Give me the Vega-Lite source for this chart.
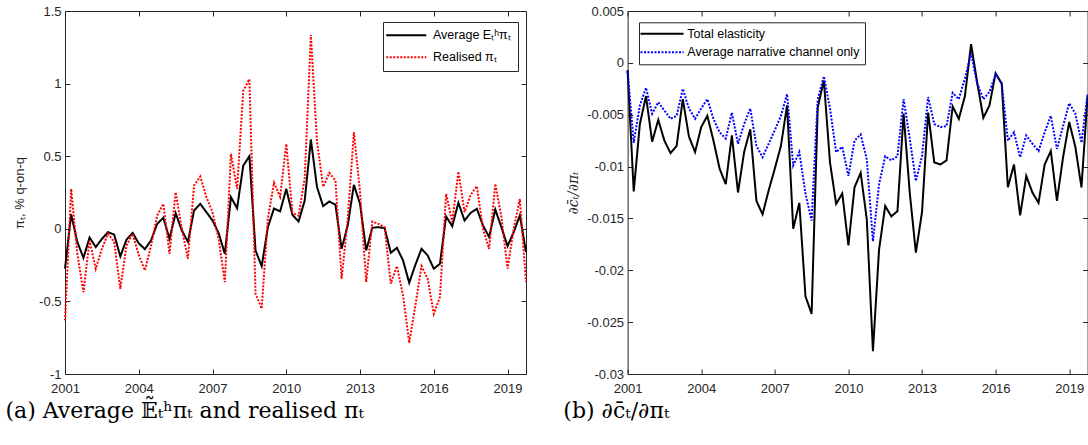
{
  "$schema": "https://vega.github.io/schema/vega-lite/v6.json",
  "background": "white",
  "padding": 5,
  "bounds": "flush",
  "spacing": 101.6,
  "resolve": {"scale": {"stroke": "independent", "strokeDash": "independent"}, "legend": {"stroke": "independent", "strokeDash": "independent"}},
  "config": {
    "view": {"stroke": null},
    "axis": {"domainColor": "#262626", "tickColor": "#262626", "labelColor": "#262626", "titleColor": "#262626", "labelFont": "Liberation Sans", "titleFont": "Liberation Sans", "labelFontSize": 13, "titleFontSize": 13, "titleFontWeight": "normal", "grid": false, "tickSize": -5, "domainWidth": 1, "tickWidth": 1, "labelFlush": false, "labelOverlap": false},
    "legend": {"labelFont": "Liberation Sans", "labelFontSize": 12.5, "labelColor": "black", "labelLimit": 0, "strokeColor": "#262626", "fillColor": "white", "symbolStrokeWidth": 2, "orient": "none", "title": null},
    "title": {"font": "DejaVu Serif", "fontSize": 22, "fontWeight": "normal", "color": "black", "orient": "bottom", "anchor": "start", "frame": "group", "offset": 6}
  },
  "datasets": {
    "d": [
      {"t": 2001, "exp": -0.275, "real": -0.631, "tot": -0.0007, "nar": -0.0008},
      {"t": 2001.25, "exp": 0.10, "real": 0.275, "tot": -0.0124, "nar": -0.0077},
      {"t": 2001.5, "exp": -0.09, "real": -0.17, "tot": -0.0059, "nar": -0.0041},
      {"t": 2001.75, "exp": -0.20, "real": -0.436, "tot": -0.0032, "nar": -0.0024},
      {"t": 2002, "exp": -0.06, "real": -0.08, "tot": -0.0076, "nar": -0.0049},
      {"t": 2002.25, "exp": -0.126, "real": -0.275, "tot": -0.0055, "nar": -0.0038},
      {"t": 2002.5, "exp": -0.07, "real": -0.138, "tot": -0.0075, "nar": -0.0046},
      {"t": 2002.75, "exp": -0.023, "real": -0.034, "tot": -0.0087, "nar": -0.0054},
      {"t": 2003, "exp": -0.04, "real": -0.09, "tot": -0.0080, "nar": -0.0051},
      {"t": 2003.25, "exp": -0.19, "real": -0.413, "tot": -0.0035, "nar": -0.0025},
      {"t": 2003.5, "exp": -0.075, "real": -0.115, "tot": -0.0071, "nar": -0.0044},
      {"t": 2003.75, "exp": -0.028, "real": -0.034, "tot": -0.0086, "nar": -0.0054},
      {"t": 2004, "exp": -0.10, "real": -0.18, "tot": -0.0062, "nar": -0.0044},
      {"t": 2004.25, "exp": -0.14, "real": -0.287, "tot": -0.0051, "nar": -0.0035},
      {"t": 2004.5, "exp": -0.08, "real": -0.115, "tot": -0.0075, "nar": -0.0054},
      {"t": 2004.75, "exp": 0.034, "real": 0.092, "tot": -0.0102, "nar": -0.0067},
      {"t": 2005, "exp": 0.076, "real": 0.172, "tot": -0.0117, "nar": -0.0073},
      {"t": 2005.25, "exp": -0.069, "real": -0.172, "tot": -0.0070, "nar": -0.0048},
      {"t": 2005.5, "exp": 0.108, "real": 0.252, "tot": -0.0125, "nar": -0.0078},
      {"t": 2005.75, "exp": -0.01, "real": 0.0, "tot": -0.0086, "nar": -0.0059},
      {"t": 2006, "exp": -0.09, "real": -0.206, "tot": -0.0064, "nar": -0.0044},
      {"t": 2006.25, "exp": 0.126, "real": 0.298, "tot": -0.0133, "nar": -0.0080},
      {"t": 2006.5, "exp": 0.172, "real": 0.36, "tot": -0.0146, "nar": -0.0091},
      {"t": 2006.75, "exp": 0.115, "real": 0.218, "tot": -0.0123, "nar": -0.0078},
      {"t": 2007, "exp": 0.057, "real": 0.115, "tot": -0.0102, "nar": -0.0065},
      {"t": 2007.25, "exp": -0.03, "real": -0.07, "tot": -0.0080, "nar": -0.0051},
      {"t": 2007.5, "exp": -0.172, "real": -0.367, "tot": -0.0041, "nar": -0.0030},
      {"t": 2007.75, "exp": 0.218, "real": 0.516, "tot": -0.0160, "nar": -0.0099},
      {"t": 2008, "exp": 0.142, "real": 0.275, "tot": -0.0135, "nar": -0.0086},
      {"t": 2008.25, "exp": 0.435, "real": 0.95, "tot": -0.0225, "nar": -0.0126},
      {"t": 2008.5, "exp": 0.50, "real": 1.03, "tot": -0.0242, "nar": -0.0152},
      {"t": 2008.75, "exp": -0.15, "real": -0.447, "tot": -0.0043, "nar": -0.0035},
      {"t": 2009, "exp": -0.257, "real": -0.55, "tot": -0.0017, "nar": -0.0013},
      {"t": 2009.25, "exp": 0.01, "real": 0.069, "tot": -0.0096, "nar": -0.0044},
      {"t": 2009.5, "exp": 0.14, "real": 0.317, "tot": -0.0136, "nar": -0.0086},
      {"t": 2009.75, "exp": 0.12, "real": 0.22, "tot": -0.0126, "nar": -0.0081},
      {"t": 2010, "exp": 0.275, "real": 0.585, "tot": -0.0176, "nar": -0.0109},
      {"t": 2010.25, "exp": 0.096, "real": 0.11, "tot": -0.0120, "nar": -0.0075},
      {"t": 2010.5, "exp": 0.05, "real": 0.09, "tot": -0.0106, "nar": -0.0069},
      {"t": 2010.75, "exp": 0.195, "real": 0.35, "tot": -0.0151, "nar": -0.0093},
      {"t": 2011, "exp": 0.615, "real": 1.335, "tot": -0.0278, "nar": -0.0172},
      {"t": 2011.25, "exp": 0.287, "real": 0.6, "tot": -0.0180, "nar": -0.0117},
      {"t": 2011.5, "exp": 0.156, "real": 0.29, "tot": -0.0138, "nar": -0.0090},
      {"t": 2011.75, "exp": 0.188, "real": 0.385, "tot": -0.0148, "nar": -0.0094},
      {"t": 2012, "exp": 0.166, "real": 0.333, "tot": -0.0143, "nar": -0.0090},
      {"t": 2012.25, "exp": -0.138, "real": -0.344, "tot": -0.0049, "nar": -0.0035},
      {"t": 2012.5, "exp": 0.023, "real": 0.069, "tot": -0.0125, "nar": -0.0073},
      {"t": 2012.75, "exp": 0.303, "real": 0.665, "tot": -0.0183, "nar": -0.0114},
      {"t": 2013, "exp": 0.172, "real": 0.252, "tot": -0.0144, "nar": -0.0090},
      {"t": 2013.25, "exp": -0.149, "real": -0.367, "tot": -0.0048, "nar": -0.0033},
      {"t": 2013.5, "exp": 0.007, "real": 0.05, "tot": -0.0096, "nar": -0.0059},
      {"t": 2013.75, "exp": 0.011, "real": 0.034, "tot": -0.0098, "nar": -0.0062},
      {"t": 2014, "exp": 0.005, "real": 0.011, "tot": -0.0094, "nar": -0.0061},
      {"t": 2014.25, "exp": -0.165, "real": -0.378, "tot": -0.0042, "nar": -0.0029},
      {"t": 2014.5, "exp": -0.131, "real": -0.257, "tot": -0.0054, "nar": -0.0035},
      {"t": 2014.75, "exp": -0.218, "real": -0.459, "tot": -0.0032, "nar": -0.0015},
      {"t": 2015, "exp": -0.372, "real": -0.785, "tot": 0.0018, "nar": 0.0009},
      {"t": 2015.25, "exp": -0.248, "real": -0.528, "tot": -0.0019, "nar": -0.0020},
      {"t": 2015.5, "exp": -0.138, "real": -0.257, "tot": -0.0053, "nar": -0.0035},
      {"t": 2015.75, "exp": -0.183, "real": -0.344, "tot": -0.0041, "nar": -0.0028},
      {"t": 2016, "exp": -0.275, "real": -0.585, "tot": -0.0010, "nar": -0.0011},
      {"t": 2016.25, "exp": -0.241, "real": -0.47, "tot": -0.0020, "nar": -0.0020},
      {"t": 2016.5, "exp": 0.085, "real": 0.241, "tot": -0.0120, "nar": -0.0075},
      {"t": 2016.75, "exp": 0.018, "real": 0.046, "tot": -0.0098, "nar": -0.0067},
      {"t": 2017, "exp": 0.179, "real": 0.394, "tot": -0.0147, "nar": -0.0091},
      {"t": 2017.25, "exp": 0.057, "real": 0.115, "tot": -0.0109, "nar": -0.0070},
      {"t": 2017.5, "exp": 0.110, "real": 0.234, "tot": -0.0125, "nar": -0.0078},
      {"t": 2017.75, "exp": 0.138, "real": 0.294, "tot": -0.0135, "nar": -0.0085},
      {"t": 2018, "exp": 0.023, "real": 0.0, "tot": -0.0098, "nar": -0.0067},
      {"t": 2018.25, "exp": -0.057, "real": -0.138, "tot": -0.0085, "nar": -0.0051},
      {"t": 2018.5, "exp": 0.133, "real": 0.31, "tot": -0.0133, "nar": -0.0083},
      {"t": 2018.75, "exp": 0.011, "real": 0.08, "tot": -0.0091, "nar": -0.0061},
      {"t": 2019, "exp": -0.119, "real": -0.275, "tot": -0.0057, "nar": -0.0039},
      {"t": 2019.25, "exp": -0.023, "real": 0.0, "tot": -0.0081, "nar": -0.0049},
      {"t": 2019.5, "exp": 0.092, "real": 0.206, "tot": -0.0120, "nar": -0.0077},
      {"t": 2019.75, "exp": -0.16, "real": -0.367, "tot": -0.0032, "nar": -0.0030}
    ]
  },
  "hconcat": [
    {
      "width": 461,
      "height": 363,
      "data": {"name": "d"},
      "title": {"text": "(a) Average 𝔼̃ₜʰπₜ and realised πₜ", "dx": -59.5},
      "layer": [
        {
          "transform": [{"fold": ["exp", "real"], "as": ["series", "value"]}],
          "mark": {"type": "line", "strokeWidth": 2},
          "encoding": {
            "x": {"field": "t", "type": "quantitative", "scale": {"domain": [2001, 2019.75], "nice": false, "zero": false}, "axis": {"orient": "bottom", "values": [2001, 2004, 2007, 2010, 2013, 2016, 2019], "format": "d", "title": null, "labelPadding": 13}},
            "y": {"field": "value", "type": "quantitative", "scale": {"domain": [-1, 1.5], "nice": false}, "axis": {"orient": "left", "values": [-1, -0.5, 0, 0.5, 1, 1.5], "labelExpr": "'' + datum.value", "title": "πₜ, % q-on-q", "titlePadding": 12, "labelPadding": 9}},
            "stroke": {"field": "series", "type": "nominal", "scale": {"domain": ["exp", "real"], "range": ["#000000", "#ff0000"]}, "legend": {"legendX": 318, "legendY": 11, "padding": 7, "rowPadding": 9, "symbolType": "M-2,0H6", "symbolSize": 100, "labelOffset": 30.5, "labelExpr": "datum.value == 'exp' ? 'Average Eₜʰπₜ' : 'Realised πₜ'"}},
            "strokeDash": {"field": "series", "type": "nominal", "scale": {"domain": ["exp", "real"], "range": [[1, 0], [2, 1.5]]}, "legend": {"legendX": 318, "legendY": 11, "padding": 7, "rowPadding": 9, "symbolType": "M-2,0H6", "symbolSize": 100, "labelOffset": 30.5, "labelExpr": "datum.value == 'exp' ? 'Average Eₜʰπₜ' : 'Realised πₜ'"}}
          }
        },
        {
          "mark": {"type": "line", "opacity": 0},
          "encoding": {
            "x": {"field": "t", "type": "quantitative", "scale": {"domain": [2001, 2019.75], "nice": false, "zero": false}, "axis": {"orient": "top", "values": [2001, 2004, 2007, 2010, 2013, 2016, 2019], "labels": false, "title": null}},
            "y": {"field": "exp", "type": "quantitative", "scale": {"domain": [-1, 1.5], "nice": false}, "axis": {"orient": "right", "values": [-1, -0.5, 0, 0.5, 1, 1.5], "labels": false, "title": null}}
          }
        }
      ],
      "resolve": {"axis": {"x": "independent", "y": "independent"}}
    },
    {
      "width": 460,
      "height": 363,
      "data": {"name": "d"},
      "title": {"text": "(b) ∂c̄ₜ/∂πₜ", "dx": -64.3},
      "layer": [
        {
          "transform": [{"fold": ["tot", "nar"], "as": ["series", "value"]}],
          "mark": {"type": "line", "strokeWidth": 2},
          "encoding": {
            "x": {"field": "t", "type": "quantitative", "scale": {"domain": [2001, 2019.75], "nice": false, "zero": false}, "axis": {"orient": "bottom", "values": [2001, 2004, 2007, 2010, 2013, 2016, 2019], "format": "d", "title": null, "labelPadding": 13}},
            "y": {"field": "value", "type": "quantitative", "scale": {"domain": [-0.03, 0.005], "nice": false, "zero": false}, "axis": {"orient": "left", "values": [-0.03, -0.025, -0.02, -0.015, -0.01, -0.005, 0, 0.005], "labelExpr": "'' + datum.value", "title": "∂c̄ₜ/∂πₜ", "titleFont": "DejaVu Serif", "titleFontStyle": "italic", "titleFontSize": 14, "titlePadding": 6, "labelPadding": 9}},
            "stroke": {"field": "series", "type": "nominal", "scale": {"domain": ["tot", "nar"], "range": ["#000000", "#0000ff"]}, "legend": {"legendX": 11.4, "legendY": 11.3, "padding": 5, "rowPadding": 5.5, "symbolType": "M-1.857,0H6.143", "symbolSize": 116, "labelOffset": 30.3, "labelExpr": "datum.value == 'tot' ? 'Total elasticity' : 'Average narrative channel only'"}},
            "strokeDash": {"field": "series", "type": "nominal", "scale": {"domain": ["tot", "nar"], "range": [[1, 0], [2, 1.5]]}, "legend": {"legendX": 11.4, "legendY": 11.3, "padding": 5, "rowPadding": 5.5, "symbolType": "M-1.857,0H6.143", "symbolSize": 116, "labelOffset": 30.3, "labelExpr": "datum.value == 'tot' ? 'Total elasticity' : 'Average narrative channel only'"}}
          }
        },
        {
          "mark": {"type": "line", "opacity": 0},
          "encoding": {
            "x": {"field": "t", "type": "quantitative", "scale": {"domain": [2001, 2019.75], "nice": false, "zero": false}, "axis": {"orient": "top", "values": [2001, 2004, 2007, 2010, 2013, 2016, 2019], "labels": false, "title": null}},
            "y": {"field": "tot", "type": "quantitative", "scale": {"domain": [-0.03, 0.005], "nice": false, "zero": false}, "axis": {"orient": "right", "values": [-0.03, -0.025, -0.02, -0.015, -0.01, -0.005, 0, 0.005], "labels": false, "title": null}}
          }
        }
      ],
      "resolve": {"axis": {"x": "independent", "y": "independent"}}
    }
  ]
}
